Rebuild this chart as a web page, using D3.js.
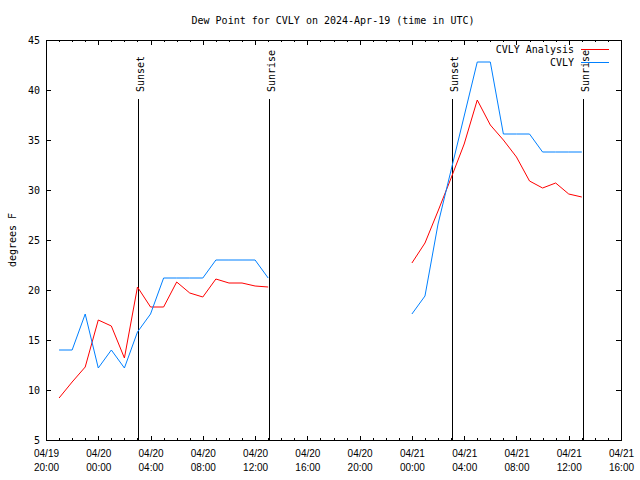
<!DOCTYPE html>
<meta charset="utf-8">
<body style="margin:0;background:#fff">
<div id="chart"></div>
<script src="https://d3js.org/d3.v7.min.js"></script>
<script>

// hourly values from 04/19 21:00 UTC, null = no data
var firstHour = "2024-04-19T21:00:00Z";
var analysis = [9.2, 10.8, 12.3, 17.0, 16.4, 13.2, 20.3, 18.3, 18.3, 20.8, 19.7, 19.3, 21.1, 20.7, 20.7, 20.4, 20.3,
  null, null, null, null, null, null, null, null, null, null,
  22.7, 24.7, 27.9, 31.2, 34.6, 39.0, 36.5, 35.0, 33.3, 30.9, 30.2, 30.7, 29.6, 29.3];
var observed = [14.0, 14.0, 17.6, 12.2, 14.0, 12.2, 15.8, 17.6, 21.2, 21.2, 21.2, 21.2, 23.0, 23.0, 23.0, 23.0, 21.2,
  null, null, null, null, null, null, null, null, null, null,
  17.6, 19.4, 26.6, 32.0, 37.4, 42.8, 42.8, 35.6, 35.6, 35.6, 33.8, 33.8, 33.8, 33.8];
var seriesNames = ["CVLY Analysis", "CVLY"];
var seriesColors = ["#ff0000", "#0080ff"];
var yTicks = [5, 10, 15, 20, 25, 30, 35, 40, 45];
var eventNames = ["Sunset", "Sunrise", "Sunset", "Sunrise"];
var eventTimes = ["2024-04-20T03:04:00Z", "2024-04-20T13:05:00Z", "2024-04-21T03:05:00Z", "2024-04-21T13:07:00Z"];

var W = 640, H = 480;
var pL = 46, pR = 621, pT = 40, pB = 440;

var svg = d3.select("#chart").append("svg")
  .attr("width", W).attr("height", H)
  .style("font-family", "DejaVu Sans Mono, monospace")
  .style("font-size", "10px");

var x = d3.scaleUtc()
  .domain([new Date("2024-04-19T20:00:00Z"), new Date("2024-04-21T16:00:00Z")])
  .range([pL, pR]);
var y = d3.scaleLinear().domain([5, 45]).range([pB, pT]);

var t0 = new Date(firstHour);
function timeAt(i) { return d3.utcHour.offset(t0, i); }

// title
svg.append("text")
  .attr("x", 333).attr("y", 24)
  .attr("text-anchor", "middle")
  .text("Dew Point for CVLY on 2024-Apr-19 (time in UTC)");

// y axis label
svg.append("text")
  .attr("transform", "translate(12,240)rotate(-90)")
  .attr("text-anchor", "middle")
  .attr("dominant-baseline", "central")
  .text("degrees F");

// minor x ticks, bottom + top
svg.append("g")
  .attr("transform", "translate(0," + pB + ")")
  .call(d3.axisBottom(x).ticks(d3.utcHour.every(1)).tickSize(-2).tickFormat(""));
svg.append("g")
  .attr("transform", "translate(0," + pT + ")")
  .call(d3.axisTop(x).ticks(d3.utcHour.every(1)).tickSize(-2).tickFormat(""));

// major x ticks with two-line labels
var xMajor = svg.append("g")
  .attr("transform", "translate(0," + pB + ")")
  .call(d3.axisBottom(x).ticks(d3.utcHour.every(4)).tickSize(-4.5).tickFormat(""));
xMajor.selectAll(".tick").append("text")
  .attr("fill", "#000")
  .attr("text-anchor", "middle")
  .each(function(d) {
    var t = d3.select(this);
    t.append("tspan").attr("x", 0).attr("y", 17).text(d3.utcFormat("%m/%d")(d));
    t.append("tspan").attr("x", 0).attr("y", 31).text(d3.utcFormat("%H:%M")(d));
  });
svg.append("g")
  .attr("transform", "translate(0," + pT + ")")
  .call(d3.axisTop(x).ticks(d3.utcHour.every(4)).tickSize(-4.5).tickFormat(""));

// y ticks, left + right
svg.append("g")
  .attr("transform", "translate(" + pL + ",0)")
  .call(d3.axisLeft(y).tickValues(yTicks).tickSize(-5).tickPadding(6))
  .selectAll("text").attr("fill", "#000").style("font-size", "10px").style("font-family", "DejaVu Sans Mono, monospace");
svg.append("g")
  .attr("transform", "translate(" + pR + ",0)")
  .call(d3.axisRight(y).tickValues(yTicks).tickSize(-5).tickFormat(""));

svg.selectAll(".domain").remove();
svg.selectAll(".tick line").attr("stroke", "#000").attr("shape-rendering", "crispEdges");

// border
svg.append("rect")
  .attr("x", pL).attr("y", pT)
  .attr("width", pR - pL).attr("height", pB - pT)
  .attr("fill", "none").attr("stroke", "#000")
  .attr("shape-rendering", "crispEdges");

// sunrise / sunset markers
eventTimes.forEach(function(t, i) {
  var ex = Math.round(x(new Date(t))) + 0.5;
  svg.append("line")
    .attr("x1", ex).attr("x2", ex)
    .attr("y1", 99).attr("y2", pB)
    .attr("stroke", "#000");
  svg.append("text")
    .attr("transform", "translate(" + (ex + 2) + ",92)rotate(-90)")
    .attr("dominant-baseline", "central")
    .text(eventNames[i]);
});

// data lines
var line = d3.line()
  .defined(function(d) { return d != null; })
  .x(function(d, i) { return x(timeAt(i)); })
  .y(function(d) { return y(d); });

[analysis, observed].forEach(function(vals, k) {
  svg.append("path")
    .datum(vals)
    .attr("fill", "none")
    .attr("stroke", seriesColors[k])
    .attr("stroke-width", 1)
    .attr("d", line);
});

// legend
seriesNames.forEach(function(name, k) {
  var ly = 49 + k * 13;
  svg.append("text")
    .attr("x", 574).attr("y", ly)
    .attr("text-anchor", "end")
    .attr("dominant-baseline", "central")
    .text(name);
  svg.append("line")
    .attr("x1", 581).attr("x2", 609)
    .attr("y1", ly + 0.5).attr("y2", ly + 0.5)
    .attr("stroke", seriesColors[k])
    .attr("stroke-width", 1.2)
    .attr("shape-rendering", "crispEdges");
});

</script>
